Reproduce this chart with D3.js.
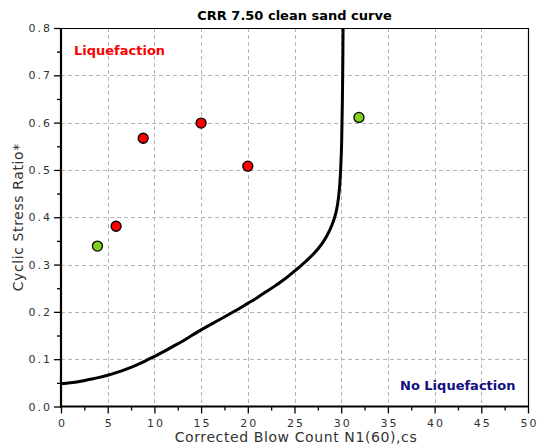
<!DOCTYPE html>
<html>
<head>
<meta charset="utf-8">
<script src="https://cdn.jsdelivr.net/npm/d3@7"></script>
<style>
  body { margin: 0; background: #fff; }
  svg { display: block; font-family: "DejaVu Sans", Verdana, sans-serif; }
</style>
</head>
<body>
<svg id="chart" width="540" height="447"></svg>
<script>
// ---- data ----
const title = "CRR 7.50 clean sand curve";
const xLabel = "Corrected Blow Count N1(60),cs";
const yLabel = "Cyclic Stress Ratio*";
const xTicks = [0, 5, 10, 15, 20, 25, 30, 35, 40, 45, 50];
const yTicks = [0, 0.1, 0.2, 0.3, 0.4, 0.5, 0.6, 0.7, 0.8];
const curveN = [0, 1, 2, 3, 4, 5, 6, 7, 8, 9, 10, 11, 12, 13, 14, 15, 16, 17, 18, 19, 20,
  21, 22, 23, 24, 25, 26, 27, 27.5, 28, 28.5, 29, 29.3, 29.5, 29.7, 29.85, 29.95, 30.05,
  30.12, 30.17, 30.2];
const curveCRR = [0.048, 0.050, 0.053, 0.057, 0.061, 0.066, 0.072, 0.079, 0.087, 0.096, 0.106,
  0.116, 0.127, 0.138, 0.150, 0.162, 0.173, 0.184, 0.195, 0.206, 0.218,
  0.230, 0.243, 0.256, 0.270, 0.286, 0.303, 0.322, 0.333, 0.346, 0.362, 0.383, 0.400, 0.415,
  0.440, 0.470, 0.505, 0.560, 0.640, 0.720, 0.800];
const pointN = [3.9, 5.9, 8.8, 15.0, 20.0, 31.9];
const pointCSR = [0.339, 0.381, 0.567, 0.599, 0.508, 0.611];
const pointClass = ["no", "liq", "liq", "liq", "liq", "no"];
const zoneLabels = ["Liquefaction", "No Liquefaction"];

// ---- layout ----
const svg = d3.select("#chart");
const L = 61, R = 528, T = 28, B = 406.5;
const x = d3.scaleLinear().domain([0, 50]).range([L, R]);
const y = d3.scaleLinear().domain([0, 0.8]).range([B, T]);

// grid
const grid = svg.append("g").attr("stroke", "#b4b4b4").attr("stroke-width", 1)
  .attr("stroke-dasharray", "4,3").attr("shape-rendering", "crispEdges");
grid.selectAll("line.v").data(xTicks.filter(d => d > 0 && d < 50)).join("line")
  .attr("x1", d => Math.round(x(d)) + 0.5).attr("x2", d => Math.round(x(d)) + 0.5)
  .attr("y1", T).attr("y2", B);
grid.selectAll("line.h").data(yTicks.filter(d => d > 0 && d < 0.8)).join("line")
  .attr("y1", d => Math.round(y(d)) + 0.5).attr("y2", d => Math.round(y(d)) + 0.5)
  .attr("x1", L).attr("x2", R);

// frame top/right
svg.append("path").attr("d", `M${L},${T + 0.5}H${R + 0.5}V${B}`)
  .attr("fill", "none").attr("stroke", "#000").attr("stroke-width", 1.2);

// curve
const line = d3.line().x((d, i) => x(curveN[i])).y((d, i) => y(curveCRR[i])).curve(d3.curveMonotoneX);
svg.append("path").datum(curveN).attr("d", line)
  .attr("fill", "none").attr("stroke", "#000").attr("stroke-width", 3).attr("stroke-linejoin", "round");

// axes
const tickFont = g => g.selectAll("text").attr("font-size", 11).attr("fill", "#333")
  .attr("letter-spacing", "2px").attr("font-family", "DejaVu Sans, Verdana, sans-serif");

const xAxis = svg.append("g").attr("transform", `translate(0,${B})`)
  .call(d3.axisBottom(x).tickValues(xTicks).tickSize(7).tickPadding(6).tickFormat(d3.format("d")));
xAxis.call(tickFont);
xAxis.select(".domain").attr("stroke-width", 2.2).attr("d", `M${L - 1},0H${R + 1}`);
xAxis.selectAll(".tick line").attr("stroke-width", 1.3);
xAxis.selectAll(".tick text").attr("dx", "1px");
svg.append("g").attr("transform", `translate(0,${B})`)
  .call(d3.axisBottom(x).tickValues(d3.range(2.5, 50, 5)).tickSize(4).tickFormat(""))
  .call(g => g.select(".domain").remove()).selectAll("line").attr("stroke-width", 1.3);

const yAxis = svg.append("g").attr("transform", `translate(${L},0)`)
  .call(d3.axisLeft(y).tickValues(yTicks).tickSize(7).tickPadding(2).tickFormat(d3.format(".1f")));
yAxis.call(tickFont);
yAxis.select(".domain").attr("stroke-width", 2.2).attr("d", `M0,${B + 1}V${T}`);
yAxis.selectAll(".tick line").attr("stroke-width", 1.3);
svg.append("g").attr("transform", `translate(${L},0)`)
  .call(d3.axisLeft(y).tickValues(d3.range(0.05, 0.8, 0.1)).tickSize(4).tickFormat(""))
  .call(g => g.select(".domain").remove()).selectAll("line").attr("stroke-width", 1.3);

// points
svg.append("g").selectAll("circle").data(pointN).join("circle")
  .attr("cx", d => x(d)).attr("cy", (d, i) => y(pointCSR[i])).attr("r", 5)
  .attr("fill", (d, i) => pointClass[i] === "liq" ? "#ff0000" : "#7fd11b")
  .attr("stroke", "#000").attr("stroke-width", 1.3);

// zone labels
svg.append("text").attr("x", 74).attr("y", 55).text(zoneLabels[0])
  .attr("font-size", 13).attr("font-weight", "bold").attr("fill", "#ff0000");
svg.append("text").attr("x", 400).attr("y", 390).text(zoneLabels[1])
  .attr("font-size", 13).attr("font-weight", "bold").attr("fill", "#101080");

// title
svg.append("text").attr("x", (L + R) / 2).attr("y", 20).attr("text-anchor", "middle")
  .attr("font-size", 13).attr("font-weight", "bold").attr("fill", "#000").text(title);

// axis titles
svg.append("text").attr("x", 296).attr("y", 442).attr("text-anchor", "middle")
  .attr("font-size", 14).attr("letter-spacing", "0.6px").attr("fill", "#333").text(xLabel);
svg.append("text").attr("transform", `translate(23,${(T + B) / 2}) rotate(-90)`)
  .attr("text-anchor", "middle").attr("font-size", 14).attr("letter-spacing", "0.6px")
  .attr("fill", "#333").text(yLabel);
</script>
</body>
</html>
